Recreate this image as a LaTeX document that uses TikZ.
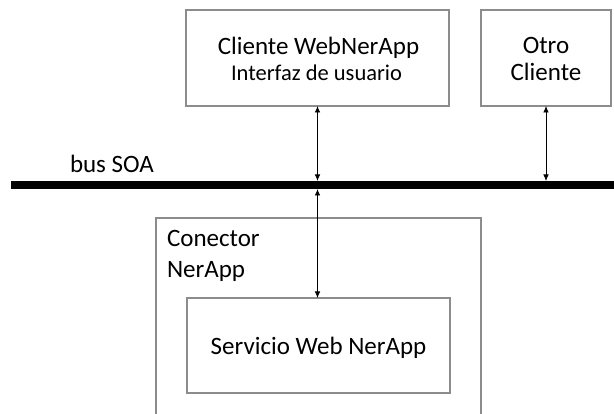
\documentclass[tikz,border=0pt]{standalone}
\usepackage{fontspec}
\setmainfont{Carlito}
\usetikzlibrary{arrows.meta}
\begin{document}
\begin{tikzpicture}[x=1pt,y=-1pt,
  box/.style={draw=black!45,line width=1.2pt,fill=none,inner sep=0pt,outer sep=0pt,rectangle},
  lbl/.style={inner sep=0pt,outer sep=0pt,anchor=base,font=\fontsize{25}{30}\selectfont},
  small/.style={font=\fontsize{22.5}{27}\selectfont},
  conn/.style={line width=0.8pt,{Latex[length=6.5pt,width=5.5pt]}-{Latex[length=6.5pt,width=5.5pt]}}]
\useasboundingbox (0,0) rectangle (614,414);
\clip (0,0) rectangle (614,414);

% client boxes
\node[box,minimum width=263pt,minimum height=96pt] (cliente) at (317.5,58) {};
\node[box,minimum width=130pt,minimum height=96pt] (otro) at (546,58) {};

% connector container, running past the lower edge
\node[box,minimum width=325pt,minimum height=240pt] (conector) at (318.5,338) {};
\node[box,minimum width=263pt,minimum height=95pt] (servicio) at (318.5,345.5) {};

% the bus
\node[fill=black,draw=none,inner sep=0pt,outer sep=0pt,minimum width=603pt,minimum height=8pt] (bus) at (312.5,185) {};

% labels
\node[lbl] (tcliente) at (318.5,54.5) {Cliente WebNerApp};
\node[lbl,small] (tinterfaz) at (316.5,80.5) {Interfaz de usuario};
\node[lbl] (totro1) at (546,54) {Otro};
\node[lbl] (totro2) at (546,80.5) {Cliente};
\node[lbl,anchor=base west] (tbus) at (70,173) {bus SOA};
\node[lbl,anchor=base west] (tcon1) at (167,247) {Conector};
\node[lbl,anchor=base west] (tcon2) at (167,278) {NerApp};
\node[lbl] (tserv) at (318.5,355) {Servicio Web NerApp};

% connectors
\draw[conn] (cliente.south) -- (cliente.south |- bus.north);
\draw[conn] (otro.south) -- (otro.south |- bus.north);
\draw[conn] (cliente.south |- bus.south) -- (cliente.south |- servicio.north);
\end{tikzpicture}
\end{document}
